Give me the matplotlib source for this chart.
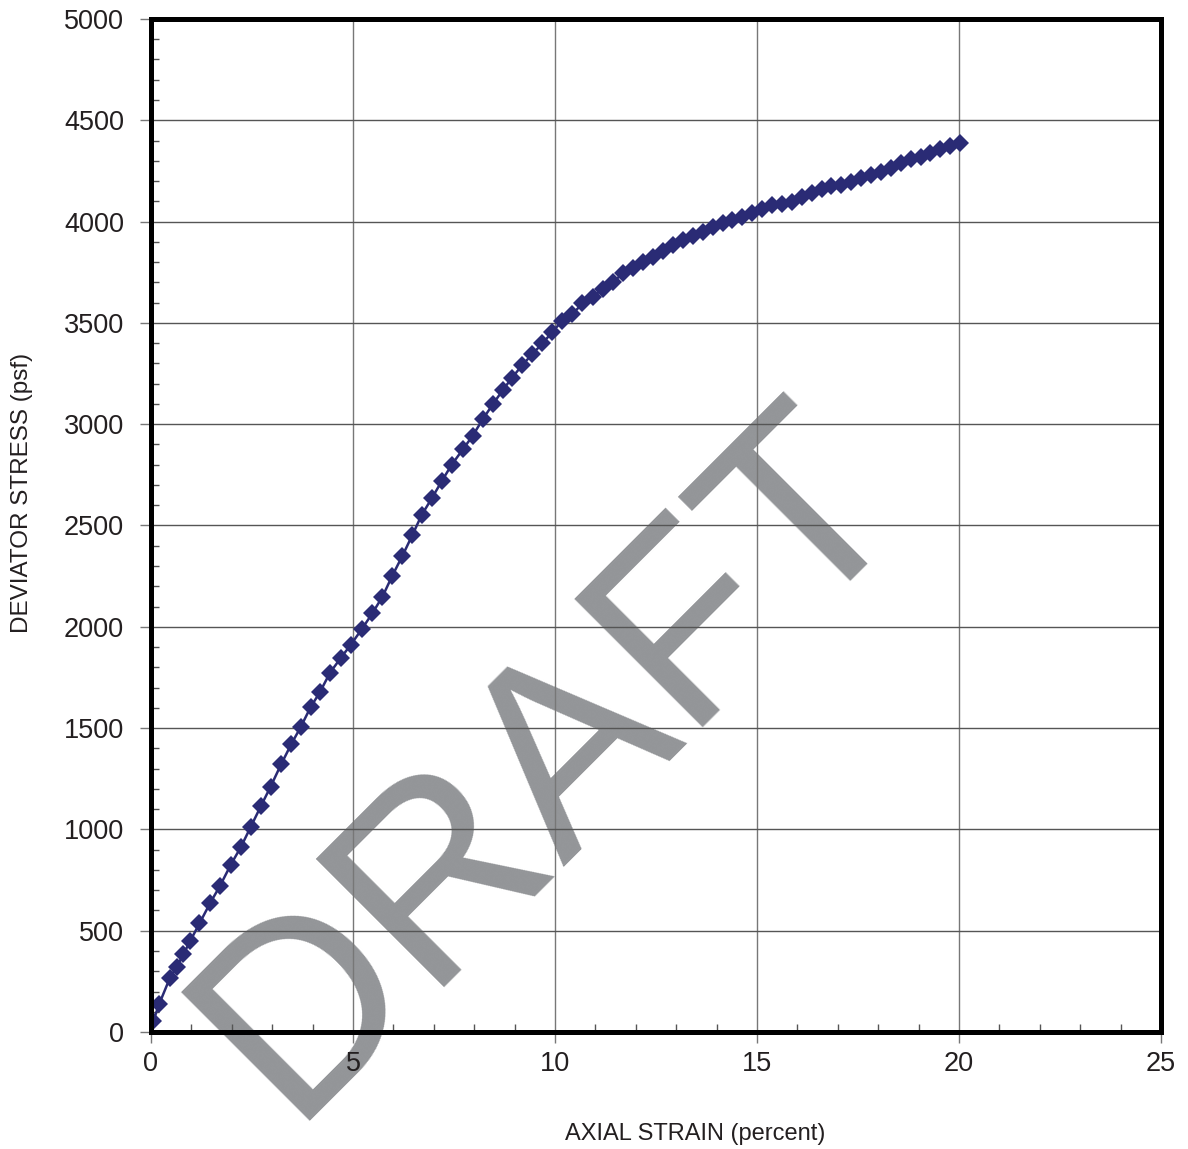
import numpy as np
import matplotlib
matplotlib.use("Agg")
import matplotlib.pyplot as plt
from matplotlib.ticker import MultipleLocator

plt.rcParams['font.family'] = ['Liberation Sans', 'DejaVu Sans']

# Data
strain = [0.0, 0.06, 0.20, 0.47, 0.64, 0.80, 0.97, 1.20, 1.46, 1.71, 1.97,
          2.23, 2.47, 2.72, 2.96, 3.22, 3.47, 3.71, 3.95, 4.18, 4.43, 4.70,
          4.94, 5.22, 5.48, 5.73, 5.97, 6.22, 6.47, 6.70, 6.95, 7.20, 7.44,
          7.72, 7.96, 8.21, 8.46, 8.71, 8.94, 9.19, 9.44, 9.69, 9.93, 10.18,
          10.43, 10.68, 10.93, 11.18, 11.44, 11.69, 11.94, 12.19, 12.43, 12.68,
          12.92, 13.17, 13.41, 13.66, 13.90, 14.15, 14.39, 14.64, 14.88, 15.13,
          15.37, 15.62, 15.86, 16.11, 16.35, 16.60, 16.84, 17.09, 17.33, 17.58,
          17.82, 18.07, 18.31, 18.56, 18.80, 19.05, 19.29, 19.54, 19.78, 20.02]
stress = [0, 56, 137, 268, 322, 383, 449, 536, 635, 722, 824,
          915, 1013, 1115, 1211, 1321, 1420, 1507, 1603, 1677, 1773, 1847,
          1910, 1989, 2067, 2149, 2251, 2349, 2453, 2552, 2634, 2720, 2799,
          2876, 2942, 3024, 3098, 3169, 3230, 3292, 3346, 3399, 3454, 3511,
          3542, 3597, 3629, 3667, 3703, 3745, 3770, 3802, 3827, 3856,
          3885, 3909, 3929, 3950, 3975, 3995, 4008, 4021, 4044, 4060,
          4082, 4087, 4098, 4120, 4143, 4159, 4176, 4180, 4197, 4214,
          4230, 4247, 4263, 4288, 4309, 4320, 4340, 4357, 4372, 4387]

x_ticks = [0, 5, 10, 15, 20, 25]
y_ticks = [0, 500, 1000, 1500, 2000, 2500, 3000, 3500, 4000, 4500, 5000]

text_col = '#231f20'
navy = '#2a2b75'

fig = plt.figure(figsize=(11.88, 11.49), dpi=100)
ax = fig.add_axes([0.1271, 0.1018, 0.8502, 0.8817])
ax.patch.set_alpha(0)

# watermark behind everything
fig.text(0.2424, 0.0244, 'DRAFT', fontsize=190, color='#939598',
         rotation=45, rotation_mode='anchor', ha='left', va='baseline', zorder=-1)

ax.plot(strain, stress, '-', color=navy, lw=1.8, zorder=3)
ax.plot(strain[1:], stress[1:], 'D', color=navy, ms=9.5, mew=0, zorder=4)

ax.set_xlim(0, 25)
ax.set_ylim(0, 5000)
ax.set_xticks(x_ticks)
ax.set_yticks(y_ticks)
ax.xaxis.set_minor_locator(MultipleLocator(1))
ax.yaxis.set_minor_locator(MultipleLocator(100))

ax.grid(True, which='major', axis='y', color='#555555', lw=1.0)
ax.grid(True, which='major', axis='x', color='#777777', lw=1.0)
ax.set_axisbelow(True)

for s in ax.spines.values():
    s.set_linewidth(3.6)
    s.set_color('black')
    s.set_zorder(5)

ax.tick_params(which='major', direction='out', length=8, width=1, color='#777777',
               labelsize=19.5, labelcolor=text_col, pad=6)
ax.tick_params(which='minor', direction='in', length=6, width=1, color='#555555')
ax.tick_params(axis='y', which='major', pad=11.5)

ax.set_xlabel('AXIAL STRAIN (percent)', fontsize=17, color=text_col)
ax.set_ylabel('DEVIATOR STRESS (psf)', fontsize=17.5, color=text_col)
ax.xaxis.set_label_coords(0.5386, -0.0898)
ax.yaxis.set_label_coords(-0.1168, 0.532)

fig.savefig('out.png', dpi=100)
